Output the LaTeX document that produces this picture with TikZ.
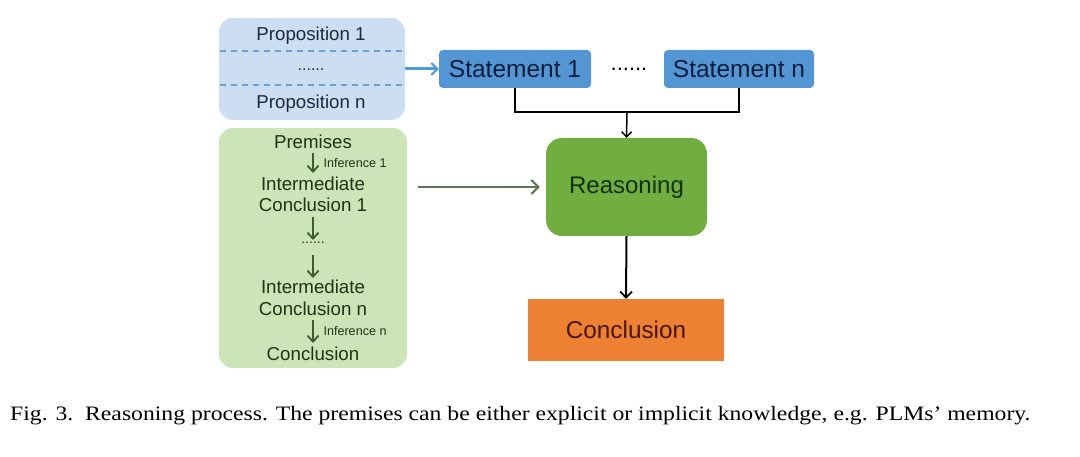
\documentclass[tikz,border=0pt]{standalone}
\usepackage{fontspec}
\usepackage{graphicx}
\setmainfont{Liberation Sans}
\newfontfamily\capfont{Liberation Serif}
\usetikzlibrary{arrows.meta}
\definecolor{propfill}{RGB}{203,222,242}
\definecolor{propdash}{RGB}{110,160,210}
\definecolor{statfill}{RGB}{84,150,212}
\definecolor{stattext}{RGB}{12,30,60}
\definecolor{proptext}{RGB}{30,40,62}
\definecolor{bluearrow}{RGB}{80,155,215}
\definecolor{premfill}{RGB}{203,228,184}
\definecolor{premtext}{RGB}{30,52,22}
\definecolor{premarrow}{RGB}{62,92,44}
\definecolor{reasfill}{RGB}{112,174,64}
\definecolor{reastext}{RGB}{18,48,10}
\definecolor{concfill}{RGB}{238,128,52}
\definecolor{conctext}{RGB}{70,22,8}
\definecolor{grayarrow}{RGB}{95,120,80}
\tikzset{
  tip/.style={-{Straight Barb[length=5pt,width=10pt,line width=1.5pt]}},
  bigtxt/.style={font=\fontsize{18.7}{20}\selectfont},
  smalltxt/.style={font=\fontsize{12.6}{13}\selectfont},
  stat/.style={draw=none,fill=statfill,rounded corners=4pt,text=stattext,font=\fontsize{24.5}{26}\selectfont},
}
\begin{document}
\begin{tikzpicture}[x=1pt,y=-1pt]
\useasboundingbox (0,0) rectangle (1080,457);
% proposition box
\node[draw=none,fill=propfill,rounded corners=14pt,minimum width=186pt,minimum height=102pt] (prop) at (312,69) {};
\draw[propdash,dashed,line width=1.4pt,dash pattern=on 6pt off 5pt] (220,51) coordinate (d1a) -- (404,51) coordinate (d1b);
\draw[propdash,dashed,line width=1.4pt,dash pattern=on 6pt off 5pt] (220,85) coordinate (d2a) -- (404,85) coordinate (d2b);
\node[bigtxt,text=proptext] (p1) at (311,36) {Proposition 1};
\node[font=\fontsize{16}{18}\selectfont,text=proptext] (pdots) at (311,70) {......};
\node[bigtxt,text=proptext] (pn) at (311,104) {Proposition n};
% statements
\node[stat,minimum width=152pt,minimum height=38pt] (s1) at (515,69) {Statement 1};
\node[font=\fontsize{22}{24}\selectfont,text=black] (sdots) at (629,69) {......};
\node[stat,minimum width=150pt,minimum height=38pt] (sn) at (739,69) {Statement n};
\draw[bluearrow,line width=3pt,-{Straight Barb[length=6pt,width=12pt,line width=2pt]}] (prop.east|-s1) -- (s1.west);
% reasoning
\node[draw=none,fill=reasfill,rounded corners=16pt,minimum width=161pt,minimum height=98pt,text=reastext,font=\fontsize{24}{26}\selectfont] (reas) at (626.5,187) {Reasoning};
\coordinate (join) at (627,112);
\draw[black,line width=1.5pt] (s1.south) |- (join) -| (sn.south);
\draw[black,line width=1.5pt,tip] (join) -- (reas.north);
% conclusion
\node[draw=none,fill=concfill,minimum width=196pt,minimum height=62pt,text=conctext,font=\fontsize{24.3}{26}\selectfont] (conc) at (626,330) {Conclusion};
\draw[black,line width=2pt,-{Straight Barb[length=6pt,width=12pt,line width=1.8pt]}] (reas.south) -- (conc.north);
% premises box
\node[draw=none,fill=premfill,rounded corners=14pt,minimum width=188pt,minimum height=240pt] (prem) at (313,248) {};
\node[bigtxt,text=premtext] (t1) at (313,142) {Premises};
\node[text=premtext,align=center,font=\fontsize{18.7}{21.5}\selectfont] (t2) at (313,194.5) {Intermediate\\Conclusion 1};
\node[font=\fontsize{14}{15}\selectfont,text=premtext] (t3) at (313,243) {......};
\node[text=premtext,align=center,font=\fontsize{18.7}{21.5}\selectfont] (t4) at (313,298) {Intermediate\\Conclusion n};
\node[bigtxt,text=premtext] (t5) at (313,354) {Conclusion};
\node[smalltxt,text=premtext,anchor=west] (i1) at (320,163) {Inference 1};
\node[smalltxt,text=premtext,anchor=west] (in) at (320,331) {Inference n};
\coordinate (a1s) at (313,153); \coordinate (a1e) at (313,173);
\coordinate (a2s) at (313,217); \coordinate (a2e) at (313,240);
\coordinate (a3s) at (313,255); \coordinate (a3e) at (313,278);
\coordinate (a4s) at (313,320); \coordinate (a4e) at (313,343);
\foreach \s/\e in {a1s/a1e,a2s/a2e,a3s/a3e,a4s/a4e}
  \draw[premarrow,line width=2pt,-{Straight Barb[length=6pt,width=11pt,line width=1.8pt]}] (\s) -- (\e);
% premises to reasoning
\coordinate (ga) at (418,187);
\draw[grayarrow,line width=2.6pt,-{Straight Barb[length=7pt,width=14pt,line width=2pt]}] (ga) -- ([xshift=-6pt]reas.west);
% caption
\node[anchor=west,inner sep=0pt,text=black] (cap) at (10,416) {\scalebox{1.155}[1]{\capfont\fontsize{20.5}{22}\selectfont Fig. 3.\ \ Reasoning process. The premises can be either explicit or implicit knowledge, e.g. PLMs’ memory.}};
\end{tikzpicture}
\end{document}
